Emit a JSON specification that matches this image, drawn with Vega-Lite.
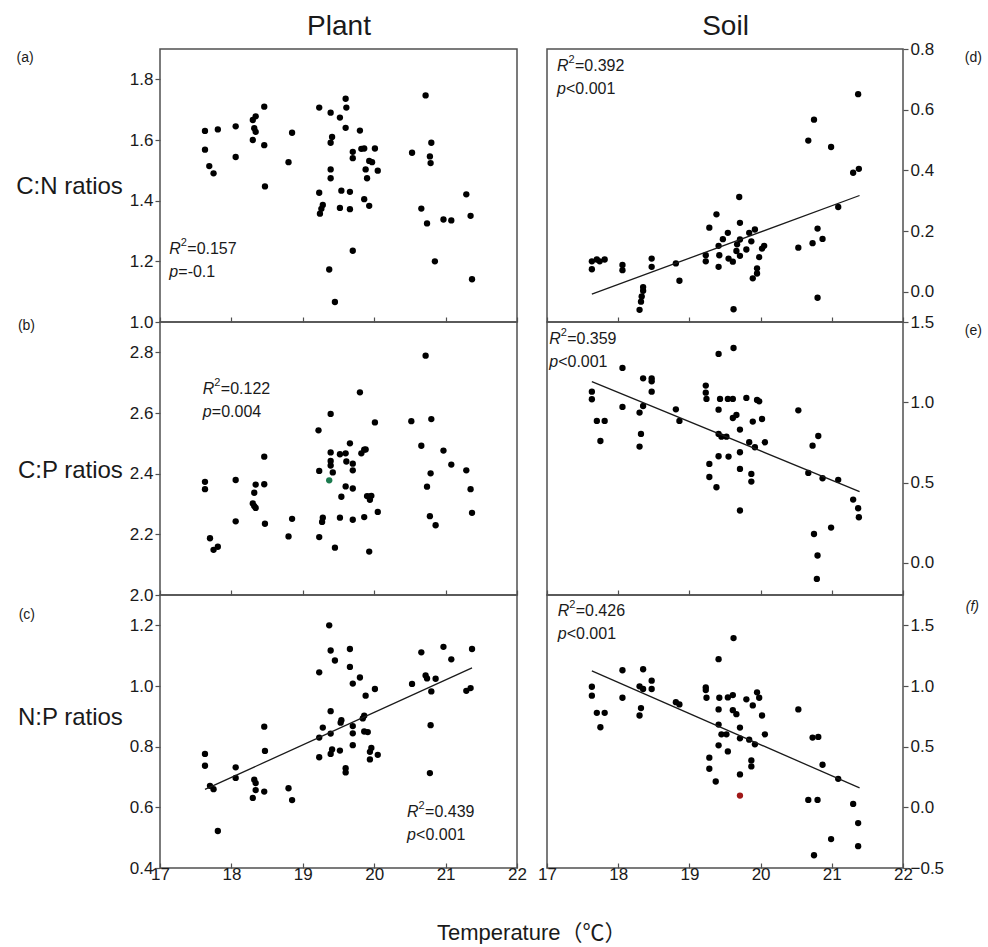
{
  "$schema": "https://vega.github.io/schema/vega-lite/v6.json",
  "background": "white",
  "padding": {"left": 14, "top": 11, "right": 5, "bottom": 0},
  "config": {
    "font": "Liberation Sans",
    "view": {"stroke": "#505050", "strokeWidth": 1.5},
    "axis": {"domain": false, "grid": false, "labelFont": "Liberation Sans", "labelFontSize": 17, "labelColor": "#1a1a1a", "tickColor": "#505050", "tickWidth": 1.2, "titleFont": "Liberation Sans", "titleFontWeight": "normal", "titleColor": "#1a1a1a", "labelOverlap": false, "labelFlush": false},
    "title": {"font": "Liberation Sans", "fontWeight": "normal", "color": "#1a1a1a"},
    "text": {"font": "Liberation Sans", "fontSize": 16, "color": "#1a1a1a"}
  },
  "datasets": {
    "a": [
      {"t":17.63,"v":1.63},{"t":17.63,"v":1.568},{"t":17.81,"v":1.635},{"t":17.69,"v":1.514},{"t":17.75,"v":1.49},{"t":18.06,"v":1.645},{"t":18.06,"v":1.544},{"t":18.30,"v":1.666},{"t":18.34,"v":1.678},{"t":18.32,"v":1.639},{"t":18.34,"v":1.627},{"t":18.30,"v":1.60},{"t":18.46,"v":1.71},{"t":18.46,"v":1.583},{"t":18.47,"v":1.447},{"t":18.80,"v":1.527},{"t":18.85,"v":1.624},{"t":19.23,"v":1.707},{"t":19.23,"v":1.426},{"t":19.24,"v":1.357},{"t":19.26,"v":1.373},{"t":19.28,"v":1.386},{"t":19.37,"v":1.173},{"t":19.39,"v":1.69},{"t":19.41,"v":1.61},{"t":19.39,"v":1.591},{"t":19.39,"v":1.503},{"t":19.39,"v":1.474},{"t":19.45,"v":1.066},{"t":19.52,"v":1.674},{"t":19.54,"v":1.433},{"t":19.52,"v":1.376},{"t":19.60,"v":1.736},{"t":19.61,"v":1.707},{"t":19.60,"v":1.64},{"t":19.66,"v":1.429},{"t":19.66,"v":1.372},{"t":19.70,"v":1.561},{"t":19.70,"v":1.54},{"t":19.70,"v":1.235},{"t":19.80,"v":1.631},{"t":19.82,"v":1.571},{"t":19.86,"v":1.572},{"t":19.86,"v":1.405},{"t":19.88,"v":1.503},{"t":19.90,"v":1.474},{"t":19.93,"v":1.383},{"t":19.93,"v":1.531},{"t":19.97,"v":1.527},{"t":20.01,"v":1.572},{"t":20.05,"v":1.499},{"t":20.53,"v":1.558},{"t":20.72,"v":1.747},{"t":20.66,"v":1.374},{"t":20.74,"v":1.325},{"t":20.78,"v":1.546},{"t":20.79,"v":1.524},{"t":20.80,"v":1.591},{"t":20.85,"v":1.20},{"t":20.97,"v":1.338},{"t":21.08,"v":1.335},{"t":21.29,"v":1.421},{"t":21.35,"v":1.35},{"t":21.37,"v":1.141}
    ],
    "b": [
      {"t":17.63,"v":2.373},{"t":17.63,"v":2.349},{"t":17.70,"v":2.187},{"t":17.75,"v":2.149},{"t":17.81,"v":2.159},{"t":18.06,"v":2.379},{"t":18.06,"v":2.243},{"t":18.30,"v":2.302},{"t":18.32,"v":2.337},{"t":18.32,"v":2.293},{"t":18.34,"v":2.287},{"t":18.34,"v":2.364},{"t":18.46,"v":2.456},{"t":18.46,"v":2.365},{"t":18.47,"v":2.235},{"t":18.80,"v":2.193},{"t":18.85,"v":2.251},{"t":19.22,"v":2.543},{"t":19.23,"v":2.409},{"t":19.23,"v":2.191},{"t":19.27,"v":2.241},{"t":19.28,"v":2.255},{"t":19.37,"v":2.378,"hl":"g"},{"t":19.39,"v":2.597},{"t":19.39,"v":2.47},{"t":19.39,"v":2.442},{"t":19.39,"v":2.427},{"t":19.42,"v":2.404},{"t":19.45,"v":2.156},{"t":19.52,"v":2.464},{"t":19.54,"v":2.324},{"t":19.52,"v":2.255},{"t":19.60,"v":2.467},{"t":19.60,"v":2.358},{"t":19.61,"v":2.44},{"t":19.66,"v":2.50},{"t":19.70,"v":2.433},{"t":19.70,"v":2.411},{"t":19.70,"v":2.351},{"t":19.70,"v":2.248},{"t":19.80,"v":2.668},{"t":19.82,"v":2.467},{"t":19.86,"v":2.479},{"t":19.88,"v":2.48},{"t":19.86,"v":2.257},{"t":19.90,"v":2.326},{"t":19.93,"v":2.324},{"t":19.94,"v":2.314},{"t":19.96,"v":2.327},{"t":19.93,"v":2.143},{"t":20.01,"v":2.569},{"t":20.05,"v":2.274},{"t":20.52,"v":2.573},{"t":20.66,"v":2.492},{"t":20.72,"v":2.789},{"t":20.74,"v":2.357},{"t":20.78,"v":2.26},{"t":20.79,"v":2.401},{"t":20.80,"v":2.58},{"t":20.86,"v":2.23},{"t":20.97,"v":2.476},{"t":21.08,"v":2.43},{"t":21.29,"v":2.411},{"t":21.35,"v":2.349},{"t":21.37,"v":2.271}
    ],
    "c": [
      {"t":17.63,"v":0.776},{"t":17.63,"v":0.737},{"t":17.70,"v":0.671},{"t":17.75,"v":0.66},{"t":17.81,"v":0.522},{"t":18.06,"v":0.732},{"t":18.06,"v":0.697},{"t":18.30,"v":0.631},{"t":18.32,"v":0.691},{"t":18.34,"v":0.68},{"t":18.34,"v":0.657},{"t":18.46,"v":0.866},{"t":18.47,"v":0.786},{"t":18.46,"v":0.652},{"t":18.80,"v":0.663},{"t":18.85,"v":0.624},{"t":19.23,"v":1.045},{"t":19.23,"v":0.83},{"t":19.23,"v":0.765},{"t":19.28,"v":0.863},{"t":19.37,"v":1.20},{"t":19.39,"v":1.117},{"t":19.39,"v":0.917},{"t":19.39,"v":0.843},{"t":19.39,"v":0.776},{"t":19.41,"v":0.791},{"t":19.45,"v":1.084},{"t":19.52,"v":0.787},{"t":19.53,"v":0.879},{"t":19.54,"v":0.887},{"t":19.60,"v":0.729},{"t":19.60,"v":0.715},{"t":19.66,"v":1.122},{"t":19.66,"v":1.063},{"t":19.70,"v":1.008},{"t":19.70,"v":0.868},{"t":19.70,"v":0.844},{"t":19.70,"v":0.805},{"t":19.80,"v":1.028},{"t":19.84,"v":0.893},{"t":19.86,"v":0.902},{"t":19.88,"v":0.968},{"t":19.86,"v":0.85},{"t":19.91,"v":0.848},{"t":19.94,"v":0.783},{"t":19.96,"v":0.796},{"t":19.94,"v":0.758},{"t":20.01,"v":0.99},{"t":20.05,"v":0.773},{"t":20.53,"v":1.007},{"t":20.66,"v":1.111},{"t":20.72,"v":1.035},{"t":20.74,"v":1.025},{"t":20.78,"v":0.713},{"t":20.79,"v":0.871},{"t":20.80,"v":0.982},{"t":20.86,"v":1.024},{"t":20.97,"v":1.129},{"t":21.08,"v":1.088},{"t":21.29,"v":0.984},{"t":21.35,"v":0.993},{"t":21.37,"v":1.122}
    ],
    "d": [
      {"t":17.63,"v":0.074},{"t":17.63,"v":0.10},{"t":17.70,"v":0.106},{"t":17.74,"v":0.10},{"t":17.81,"v":0.106},{"t":18.06,"v":0.088},{"t":18.06,"v":0.071},{"t":18.30,"v":-0.06},{"t":18.32,"v":-0.033},{"t":18.33,"v":-0.016},{"t":18.35,"v":0.003},{"t":18.35,"v":0.015},{"t":18.47,"v":0.109},{"t":18.47,"v":0.082},{"t":18.81,"v":0.093},{"t":18.86,"v":0.036},{"t":19.23,"v":0.10},{"t":19.23,"v":0.12},{"t":19.28,"v":0.211},{"t":19.38,"v":0.255},{"t":19.41,"v":0.151},{"t":19.42,"v":0.12},{"t":19.41,"v":0.082},{"t":19.47,"v":0.173},{"t":19.54,"v":0.194},{"t":19.55,"v":0.109},{"t":19.61,"v":0.099},{"t":19.62,"v":-0.058},{"t":19.66,"v":0.134},{"t":19.70,"v":0.312},{"t":19.71,"v":0.227},{"t":19.71,"v":0.172},{"t":19.71,"v":0.118},{"t":19.67,"v":0.156},{"t":19.80,"v":0.139},{"t":19.84,"v":0.194},{"t":19.87,"v":0.166},{"t":19.89,"v":0.044},{"t":19.92,"v":0.205},{"t":19.95,"v":0.077},{"t":19.95,"v":0.06},{"t":19.98,"v":0.114},{"t":20.02,"v":0.142},{"t":20.05,"v":0.151},{"t":20.53,"v":0.145},{"t":20.67,"v":0.498},{"t":20.73,"v":0.16},{"t":20.75,"v":0.567},{"t":20.80,"v":0.208},{"t":20.80,"v":-0.02},{"t":20.87,"v":0.174},{"t":20.99,"v":0.477},{"t":21.09,"v":0.279},{"t":21.30,"v":0.392},{"t":21.37,"v":0.651},{"t":21.38,"v":0.405}
    ],
    "e": [
      {"t":17.63,"v":1.066},{"t":17.63,"v":1.019},{"t":17.70,"v":0.884},{"t":17.81,"v":0.884},{"t":17.75,"v":0.759},{"t":18.06,"v":1.214},{"t":18.06,"v":0.971},{"t":18.30,"v":0.936},{"t":18.35,"v":1.149},{"t":18.35,"v":0.977},{"t":18.32,"v":0.803},{"t":18.30,"v":0.724},{"t":18.47,"v":1.149},{"t":18.47,"v":1.131},{"t":18.47,"v":1.066},{"t":18.81,"v":0.956},{"t":18.86,"v":0.884},{"t":19.23,"v":1.104},{"t":19.23,"v":1.06},{"t":19.24,"v":1.021},{"t":19.28,"v":0.616},{"t":19.28,"v":0.535},{"t":19.38,"v":0.471},{"t":19.41,"v":1.301},{"t":19.41,"v":0.954},{"t":19.41,"v":0.803},{"t":19.41,"v":0.664},{"t":19.43,"v":1.021},{"t":19.45,"v":0.786},{"t":19.52,"v":0.786},{"t":19.55,"v":0.662},{"t":19.54,"v":1.021},{"t":19.61,"v":1.021},{"t":19.61,"v":0.902},{"t":19.62,"v":1.338},{"t":19.66,"v":0.921},{"t":19.71,"v":0.83},{"t":19.71,"v":0.689},{"t":19.71,"v":0.585},{"t":19.71,"v":0.326},{"t":19.80,"v":1.027},{"t":19.84,"v":0.751},{"t":19.87,"v":0.554},{"t":19.87,"v":0.506},{"t":19.89,"v":0.88},{"t":19.92,"v":0.72},{"t":19.95,"v":1.015},{"t":19.98,"v":1.006},{"t":20.02,"v":0.896},{"t":20.06,"v":0.751},{"t":20.53,"v":0.95},{"t":20.67,"v":0.56},{"t":20.73,"v":0.73},{"t":20.75,"v":0.18},{"t":20.81,"v":0.79},{"t":20.80,"v":0.046},{"t":20.79,"v":-0.10},{"t":20.87,"v":0.527},{"t":20.99,"v":0.22},{"t":21.09,"v":0.517},{"t":21.30,"v":0.394},{"t":21.37,"v":0.34},{"t":21.38,"v":0.284}
    ],
    "f": [
      {"t":17.63,"v":0.994},{"t":17.63,"v":0.92},{"t":17.70,"v":0.779},{"t":17.81,"v":0.779},{"t":17.75,"v":0.66},{"t":18.06,"v":1.13},{"t":18.06,"v":0.903},{"t":18.30,"v":0.997},{"t":18.35,"v":1.138},{"t":18.35,"v":0.975},{"t":18.32,"v":0.818},{"t":18.30,"v":0.757},{"t":18.47,"v":1.044},{"t":18.47,"v":0.975},{"t":18.81,"v":0.867},{"t":18.86,"v":0.848},{"t":19.23,"v":0.989},{"t":19.23,"v":0.967},{"t":19.24,"v":0.903},{"t":19.28,"v":0.409},{"t":19.28,"v":0.318},{"t":19.37,"v":0.213},{"t":19.41,"v":1.221},{"t":19.42,"v":0.903},{"t":19.41,"v":0.807},{"t":19.41,"v":0.682},{"t":19.41,"v":0.511},{"t":19.45,"v":0.602},{"t":19.52,"v":0.602},{"t":19.54,"v":0.461},{"t":19.54,"v":0.906},{"t":19.61,"v":0.925},{"t":19.61,"v":0.801},{"t":19.62,"v":1.395},{"t":19.66,"v":0.768},{"t":19.71,"v":0.657},{"t":19.71,"v":0.569},{"t":19.71,"v":0.271},{"t":19.71,"v":0.097,"hl":"r"},{"t":19.80,"v":0.89},{"t":19.84,"v":0.558},{"t":19.87,"v":0.387},{"t":19.87,"v":0.337},{"t":19.89,"v":0.84},{"t":19.92,"v":0.519},{"t":19.95,"v":0.948},{"t":19.98,"v":0.903},{"t":20.02,"v":0.757},{"t":20.06,"v":0.602},{"t":20.53,"v":0.807},{"t":20.67,"v":0.061},{"t":20.73,"v":0.575},{"t":20.80,"v":0.061},{"t":20.81,"v":0.58},{"t":20.75,"v":-0.395},{"t":20.87,"v":0.351},{"t":20.99,"v":-0.262},{"t":21.09,"v":0.235},{"t":21.30,"v":0.028},{"t":21.37,"v":-0.13},{"t":21.37,"v":-0.32}
    ],
    "lines": [
      {"panel":"c","t":17.63,"v":0.659},{"panel":"c","t":21.37,"v":1.06},
      {"panel":"d","t":17.63,"v":-0.008},{"panel":"d","t":21.39,"v":0.317},
      {"panel":"e","t":17.63,"v":1.129},{"panel":"e","t":21.39,"v":0.444},
      {"panel":"f","t":17.63,"v":1.124},{"panel":"f","t":21.39,"v":0.16}
    ],
    "ann": [
      {"panel":"a","t":17.13,"v":1.242,"r":"=0.157","p":"=-0.1"},
      {"panel":"b","t":17.60,"v":2.678,"r":"=0.122","p":"=0.004"},
      {"panel":"c","t":20.46,"v":0.583,"r":"=0.439","p":"<0.001"},
      {"panel":"d","t":17.14,"v":0.745,"r":"=0.392","p":"<0.001"},
      {"panel":"e","t":17.03,"v":1.394,"r":"=0.359","p":"<0.001"},
      {"panel":"f","t":17.15,"v":1.616,"r":"=0.426","p":"<0.001"}
    ]
  },
  "title": {"text": "Temperature（℃）", "orient": "bottom", "anchor": "middle", "fontSize": 22, "offset": 40, "dx": 33, "font": "Liberation Sans, Noto Sans CJK SC"},
  "bounds": "flush",
  "spacing": {"row": 0, "column": 30},
  "columns": 2,
  "concat": [
    {
      "width": 357, "height": 273,
      "title": {"text": "(a)", "orient": "left", "anchor": "end", "frame": "group", "angle": 0, "align": "left", "baseline": "middle", "fontSize": 14, "offset": -18, "dy": 9},
      "encoding": {
        "x": {"field": "t", "type": "quantitative", "scale": {"domain": [17, 22], "nice": false, "zero": false}, "axis": {"values": [17, 18, 19, 20, 21, 22], "labels": false, "tickSize": -5, "title": null}},
        "y": {"field": "v", "type": "quantitative", "scale": {"domain": [1.0, 1.9], "nice": false, "zero": false}, "axis": {"values": [1.0, 1.2, 1.4, 1.6, 1.8], "format": ".1f", "tickSize": 5, "labelPadding": 2, "title": "C:N ratios", "titleAngle": 0, "titleAlign": "right", "titleBaseline": "middle", "titleFontSize": 24, "titlePadding": 7, "titleY": 137}}
      },
      "layer": [
        {"data": {"name": "a"}, "mark": {"type": "circle", "size": 40, "opacity": 1, "color": "#000000"}},
        {"data": {"name": "ann"}, "transform": [{"filter": "datum.panel==='a'"}], "mark": {"type": "text", "text": "R", "fontStyle": "italic", "align": "left", "baseline": "middle"},
         "encoding": {"x": {"field": "t", "type": "quantitative", "scale": {"domain": [17, 22], "nice": false, "zero": false}, "axis": {"orient": "top", "title": "Plant", "labels": false, "ticks": false, "titleFontSize": 28, "titlePadding": 9}}}},
        {"data": {"name": "ann"}, "transform": [{"filter": "datum.panel==='a'"}], "mark": {"type": "text", "text": "2", "fontSize": 11, "align": "left", "baseline": "middle", "dx": 11.5, "dy": -6},
         "encoding": {"x": {"field": "t", "type": "quantitative", "scale": {"domain": [17, 22], "nice": false, "zero": false}, "axis": null}}},
        {"data": {"name": "ann"}, "transform": [{"filter": "datum.panel==='a'"}], "mark": {"type": "text", "align": "left", "baseline": "middle", "dx": 18},
         "encoding": {"x": {"field": "t", "type": "quantitative", "scale": {"domain": [17, 22], "nice": false, "zero": false}, "axis": null}, "text": {"field": "r"}}},
        {"data": {"name": "ann"}, "transform": [{"filter": "datum.panel==='a'"}], "mark": {"type": "text", "text": "p", "fontStyle": "italic", "align": "left", "baseline": "middle", "dy": 23},
         "encoding": {"x": {"field": "t", "type": "quantitative", "scale": {"domain": [17, 22], "nice": false, "zero": false}, "axis": null}}},
        {"data": {"name": "ann"}, "transform": [{"filter": "datum.panel==='a'"}], "mark": {"type": "text", "align": "left", "baseline": "middle", "dx": 9, "dy": 23},
         "encoding": {"x": {"field": "t", "type": "quantitative", "scale": {"domain": [17, 22], "nice": false, "zero": false}, "axis": null}, "text": {"field": "p"}}}
      ],
      "resolve": {"axis": {"x": "independent"}}
    },
    {
      "width": 356, "height": 273,
      "title": {"text": "(d)", "orient": "right", "anchor": "start", "frame": "group", "angle": 0, "align": "left", "baseline": "middle", "fontSize": 14, "offset": 14, "dy": 9},
      "encoding": {
        "x": {"field": "t", "type": "quantitative", "scale": {"domain": [17, 22], "nice": false, "zero": false}, "axis": {"values": [17, 18, 19, 20, 21, 22], "labels": false, "tickSize": -5, "title": null}},
        "y": {"field": "v", "type": "quantitative", "scale": {"domain": [-0.1, 0.8], "nice": false, "zero": false}, "axis": {"orient": "right", "values": [0.0, 0.2, 0.4, 0.6, 0.8], "format": ".1f", "tickSize": 5, "labelPadding": 2, "title": null}}
      },
      "layer": [
        {"data": {"name": "d"}, "mark": {"type": "circle", "size": 40, "opacity": 1, "color": "#000000"}},
        {"data": {"name": "lines"}, "transform": [{"filter": "datum.panel==='d'"}], "mark": {"type": "line", "color": "#1a1a1a", "strokeWidth": 1.3},
         "encoding": {"x": {"field": "t", "type": "quantitative", "scale": {"domain": [17, 22], "nice": false, "zero": false}, "axis": null}}},
        {"data": {"name": "ann"}, "transform": [{"filter": "datum.panel==='d'"}], "mark": {"type": "text", "text": "R", "fontStyle": "italic", "align": "left", "baseline": "middle"},
         "encoding": {"x": {"field": "t", "type": "quantitative", "scale": {"domain": [17, 22], "nice": false, "zero": false}, "axis": {"orient": "top", "title": "Soil", "labels": false, "ticks": false, "titleFontSize": 28, "titlePadding": 9}}}},
        {"data": {"name": "ann"}, "transform": [{"filter": "datum.panel==='d'"}], "mark": {"type": "text", "text": "2", "fontSize": 11, "align": "left", "baseline": "middle", "dx": 11.5, "dy": -6},
         "encoding": {"x": {"field": "t", "type": "quantitative", "scale": {"domain": [17, 22], "nice": false, "zero": false}, "axis": null}}},
        {"data": {"name": "ann"}, "transform": [{"filter": "datum.panel==='d'"}], "mark": {"type": "text", "align": "left", "baseline": "middle", "dx": 18},
         "encoding": {"x": {"field": "t", "type": "quantitative", "scale": {"domain": [17, 22], "nice": false, "zero": false}, "axis": null}, "text": {"field": "r"}}},
        {"data": {"name": "ann"}, "transform": [{"filter": "datum.panel==='d'"}], "mark": {"type": "text", "text": "p", "fontStyle": "italic", "align": "left", "baseline": "middle", "dy": 23},
         "encoding": {"x": {"field": "t", "type": "quantitative", "scale": {"domain": [17, 22], "nice": false, "zero": false}, "axis": null}}},
        {"data": {"name": "ann"}, "transform": [{"filter": "datum.panel==='d'"}], "mark": {"type": "text", "align": "left", "baseline": "middle", "dx": 9, "dy": 23},
         "encoding": {"x": {"field": "t", "type": "quantitative", "scale": {"domain": [17, 22], "nice": false, "zero": false}, "axis": null}, "text": {"field": "p"}}}
      ],
      "resolve": {"axis": {"x": "independent"}}
    },
    {
      "width": 357, "height": 273,
      "title": {"text": "(b)", "orient": "left", "anchor": "end", "frame": "group", "angle": 0, "align": "left", "baseline": "middle", "fontSize": 14, "offset": -18, "dy": 4},
      "encoding": {
        "x": {"field": "t", "type": "quantitative", "scale": {"domain": [17, 22], "nice": false, "zero": false}, "axis": {"values": [17, 18, 19, 20, 21, 22], "labels": false, "tickSize": -5, "title": null}},
        "y": {"field": "v", "type": "quantitative", "scale": {"domain": [2.0, 2.9], "nice": false, "zero": false}, "axis": {"values": [2.0, 2.2, 2.4, 2.6, 2.8], "format": ".1f", "tickSize": 5, "labelPadding": 2, "title": "C:P ratios", "titleAngle": 0, "titleAlign": "right", "titleBaseline": "middle", "titleFontSize": 24, "titlePadding": 7, "titleY": 148}}
      },
      "layer": [
        {"data": {"name": "b"}, "mark": {"type": "circle", "size": 40, "opacity": 1}, "encoding": {"color": {"condition": {"test": "datum.hl==='g'", "value": "#1b7a4e"}, "value": "#000000"}}},
        {"data": {"name": "ann"}, "transform": [{"filter": "datum.panel==='b'"}], "mark": {"type": "text", "text": "R", "fontStyle": "italic", "align": "left", "baseline": "middle"}},
        {"data": {"name": "ann"}, "transform": [{"filter": "datum.panel==='b'"}], "mark": {"type": "text", "text": "2", "fontSize": 11, "align": "left", "baseline": "middle", "dx": 11.5, "dy": -6}},
        {"data": {"name": "ann"}, "transform": [{"filter": "datum.panel==='b'"}], "mark": {"type": "text", "align": "left", "baseline": "middle", "dx": 18}, "encoding": {"text": {"field": "r"}}},
        {"data": {"name": "ann"}, "transform": [{"filter": "datum.panel==='b'"}], "mark": {"type": "text", "text": "p", "fontStyle": "italic", "align": "left", "baseline": "middle", "dy": 23}},
        {"data": {"name": "ann"}, "transform": [{"filter": "datum.panel==='b'"}], "mark": {"type": "text", "align": "left", "baseline": "middle", "dx": 9, "dy": 23}, "encoding": {"text": {"field": "p"}}}
      ]
    },
    {
      "width": 356, "height": 273,
      "title": {"text": "(e)", "orient": "right", "anchor": "start", "frame": "group", "angle": 0, "align": "left", "baseline": "middle", "fontSize": 14, "offset": 14, "dy": 9},
      "encoding": {
        "x": {"field": "t", "type": "quantitative", "scale": {"domain": [17, 22], "nice": false, "zero": false}, "axis": {"values": [17, 18, 19, 20, 21, 22], "labels": false, "tickSize": -5, "title": null}},
        "y": {"field": "v", "type": "quantitative", "scale": {"domain": [-0.2, 1.5], "nice": false, "zero": false}, "axis": {"orient": "right", "values": [0.0, 0.5, 1.0, 1.5], "format": ".1f", "tickSize": 5, "labelPadding": 2, "title": null}}
      },
      "layer": [
        {"data": {"name": "e"}, "mark": {"type": "circle", "size": 40, "opacity": 1, "color": "#000000"}},
        {"data": {"name": "lines"}, "transform": [{"filter": "datum.panel==='e'"}], "mark": {"type": "line", "color": "#1a1a1a", "strokeWidth": 1.3}, "encoding": {}},
        {"data": {"name": "ann"}, "transform": [{"filter": "datum.panel==='e'"}], "mark": {"type": "text", "text": "R", "fontStyle": "italic", "align": "left", "baseline": "middle"}},
        {"data": {"name": "ann"}, "transform": [{"filter": "datum.panel==='e'"}], "mark": {"type": "text", "text": "2", "fontSize": 11, "align": "left", "baseline": "middle", "dx": 11.5, "dy": -6}},
        {"data": {"name": "ann"}, "transform": [{"filter": "datum.panel==='e'"}], "mark": {"type": "text", "align": "left", "baseline": "middle", "dx": 18}, "encoding": {"text": {"field": "r"}}},
        {"data": {"name": "ann"}, "transform": [{"filter": "datum.panel==='e'"}], "mark": {"type": "text", "text": "p", "fontStyle": "italic", "align": "left", "baseline": "middle", "dy": 23}},
        {"data": {"name": "ann"}, "transform": [{"filter": "datum.panel==='e'"}], "mark": {"type": "text", "align": "left", "baseline": "middle", "dx": 9, "dy": 23}, "encoding": {"text": {"field": "p"}}}
      ]
    },
    {
      "width": 357, "height": 273,
      "title": {"text": "(c)", "orient": "left", "anchor": "end", "frame": "group", "angle": 0, "align": "left", "baseline": "middle", "fontSize": 14, "offset": -18, "dy": 20},
      "encoding": {
        "x": {"field": "t", "type": "quantitative", "scale": {"domain": [17, 22], "nice": false, "zero": false}, "axis": {"values": [17, 18, 19, 20, 21, 22], "format": "d", "tickSize": -5, "labelPadding": 3, "title": null}},
        "y": {"field": "v", "type": "quantitative", "scale": {"domain": [0.4, 1.3], "nice": false, "zero": false}, "axis": {"values": [0.4, 0.6, 0.8, 1.0, 1.2], "format": ".1f", "tickSize": 5, "labelPadding": 2, "title": "N:P ratios", "titleAngle": 0, "titleAlign": "right", "titleBaseline": "middle", "titleFontSize": 24, "titlePadding": 7, "titleY": 122}}
      },
      "layer": [
        {"data": {"name": "c"}, "mark": {"type": "circle", "size": 40, "opacity": 1, "color": "#000000"}},
        {"data": {"name": "lines"}, "transform": [{"filter": "datum.panel==='c'"}], "mark": {"type": "line", "color": "#1a1a1a", "strokeWidth": 1.3}, "encoding": {}},
        {"data": {"name": "ann"}, "transform": [{"filter": "datum.panel==='c'"}], "mark": {"type": "text", "text": "R", "fontStyle": "italic", "align": "left", "baseline": "middle"}},
        {"data": {"name": "ann"}, "transform": [{"filter": "datum.panel==='c'"}], "mark": {"type": "text", "text": "2", "fontSize": 11, "align": "left", "baseline": "middle", "dx": 11.5, "dy": -6}},
        {"data": {"name": "ann"}, "transform": [{"filter": "datum.panel==='c'"}], "mark": {"type": "text", "align": "left", "baseline": "middle", "dx": 18}, "encoding": {"text": {"field": "r"}}},
        {"data": {"name": "ann"}, "transform": [{"filter": "datum.panel==='c'"}], "mark": {"type": "text", "text": "p", "fontStyle": "italic", "align": "left", "baseline": "middle", "dy": 23}},
        {"data": {"name": "ann"}, "transform": [{"filter": "datum.panel==='c'"}], "mark": {"type": "text", "align": "left", "baseline": "middle", "dx": 9, "dy": 23}, "encoding": {"text": {"field": "p"}}}
      ]
    },
    {
      "width": 356, "height": 273,
      "title": {"text": "(f)", "orient": "right", "anchor": "start", "frame": "group", "angle": 0, "align": "left", "baseline": "middle", "fontSize": 14, "fontStyle": "italic", "offset": 9, "dy": 12},
      "encoding": {
        "x": {"field": "t", "type": "quantitative", "scale": {"domain": [17, 22], "nice": false, "zero": false}, "axis": {"values": [17, 18, 19, 20, 21, 22], "format": "d", "tickSize": -5, "labelPadding": 3, "title": null}},
        "y": {"field": "v", "type": "quantitative", "scale": {"domain": [-0.5, 1.75], "nice": false, "zero": false}, "axis": {"orient": "right", "values": [-0.5, 0.0, 0.5, 1.0, 1.5], "format": ".1f", "tickSize": 5, "labelPadding": 2, "title": null}}
      },
      "layer": [
        {"data": {"name": "f"}, "mark": {"type": "circle", "size": 40, "opacity": 1}, "encoding": {"color": {"condition": {"test": "datum.hl==='r'", "value": "#a01818"}, "value": "#000000"}}},
        {"data": {"name": "lines"}, "transform": [{"filter": "datum.panel==='f'"}], "mark": {"type": "line", "color": "#1a1a1a", "strokeWidth": 1.3}, "encoding": {}},
        {"data": {"name": "ann"}, "transform": [{"filter": "datum.panel==='f'"}], "mark": {"type": "text", "text": "R", "fontStyle": "italic", "align": "left", "baseline": "middle"}},
        {"data": {"name": "ann"}, "transform": [{"filter": "datum.panel==='f'"}], "mark": {"type": "text", "text": "2", "fontSize": 11, "align": "left", "baseline": "middle", "dx": 11.5, "dy": -6}},
        {"data": {"name": "ann"}, "transform": [{"filter": "datum.panel==='f'"}], "mark": {"type": "text", "align": "left", "baseline": "middle", "dx": 18}, "encoding": {"text": {"field": "r"}}},
        {"data": {"name": "ann"}, "transform": [{"filter": "datum.panel==='f'"}], "mark": {"type": "text", "text": "p", "fontStyle": "italic", "align": "left", "baseline": "middle", "dy": 23}},
        {"data": {"name": "ann"}, "transform": [{"filter": "datum.panel==='f'"}], "mark": {"type": "text", "align": "left", "baseline": "middle", "dx": 9, "dy": 23}, "encoding": {"text": {"field": "p"}}}
      ]
    }
  ]
}
